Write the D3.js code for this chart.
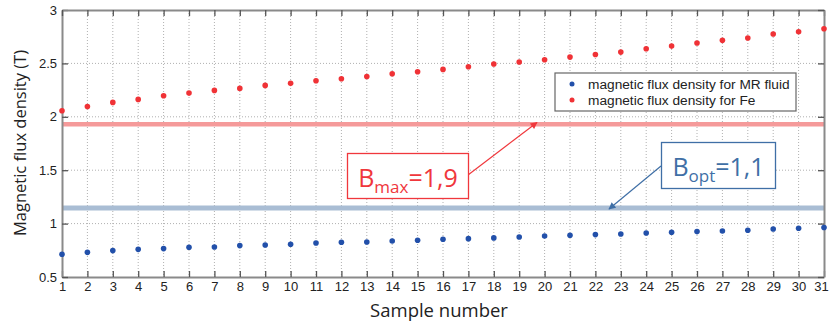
<!DOCTYPE html>
<html>
<head>
<meta charset="utf-8">
<script src="https://cdn.jsdelivr.net/npm/d3@7"></script>
<style>
  body { margin: 0; background: #fff; }
  svg { display: block; }
</style>
</head>
<body>
<svg id="chart" width="829" height="323"></svg>
<script>
// sample numbers
const samples = d3.range(1, 32);
// magnetic flux density for MR fluid (T)
const mrFluid = [0.713, 0.731, 0.747, 0.759, 0.766, 0.778, 0.781, 0.794, 0.800, 0.806,
  0.819, 0.825, 0.828, 0.837, 0.844, 0.853, 0.859, 0.866, 0.875, 0.884,
  0.891, 0.897, 0.903, 0.912, 0.919, 0.925, 0.931, 0.938, 0.950, 0.956, 0.963];
// magnetic flux density for Fe (T)
const fe = [2.056, 2.097, 2.135, 2.163, 2.197, 2.222, 2.247, 2.266, 2.294, 2.313,
  2.337, 2.356, 2.378, 2.403, 2.422, 2.444, 2.469, 2.494, 2.513, 2.534,
  2.559, 2.584, 2.606, 2.637, 2.662, 2.691, 2.716, 2.738, 2.775, 2.797, 2.825];
const yTicks = [0.5, 1, 1.5, 2, 2.5, 3];
const bMaxLine = 1.93;
const bOptLine = 1.147;

const margin = { left: 62, right: 5, top: 10, bottom: 46 };
const width = 829 - margin.left - margin.right;
const height = 323 - margin.top - margin.bottom;

const svg = d3.select("#chart");
const g = svg.append("g")
  .attr("transform", `translate(${margin.left},${margin.top})`);

const x = d3.scaleLinear().domain([1, 31]).range([0, width]);
const y = d3.scaleLinear().domain([0.5, 3]).range([height, 0]);

// grid
g.append("g")
  .selectAll("line")
  .data(samples.slice(1, -1))
  .join("line")
  .attr("x1", d => x(d)).attr("x2", d => x(d))
  .attr("y1", 0).attr("y2", height)
  .attr("stroke", "#b0b0b0")
  .attr("stroke-dasharray", "1,2");
g.append("g")
  .selectAll("line")
  .data(yTicks.slice(1, -1))
  .join("line")
  .attr("x1", 0).attr("x2", width)
  .attr("y1", d => y(d)).attr("y2", d => y(d))
  .attr("stroke", "#b0b0b0")
  .attr("stroke-dasharray", "1,2");

// reference lines
g.append("line")
  .attr("x1", 0).attr("x2", width)
  .attr("y1", y(bMaxLine)).attr("y2", y(bMaxLine))
  .attr("stroke", "#f59a9a").attr("stroke-width", 4.5);
g.append("line")
  .attr("x1", 0).attr("x2", width)
  .attr("y1", y(bOptLine)).attr("y2", y(bOptLine))
  .attr("stroke", "#a9bdd4").attr("stroke-width", 5);

// axes (MATLAB style box with inward ticks)
const axisColor = "#8a8a8a";
const tickFont = "Liberation Sans, Arial, sans-serif";

const xAxis = g.append("g")
  .attr("transform", `translate(0,${height})`)
  .call(d3.axisBottom(x).tickValues(samples).tickFormat(d3.format("d"))
    .tickSizeInner(-6).tickSizeOuter(0).tickPadding(5));
const yAxis = g.append("g")
  .call(d3.axisLeft(y).tickValues(yTicks).tickFormat(d => d)
    .tickSizeInner(-6).tickSizeOuter(0).tickPadding(5));
const xTop = g.append("g")
  .call(d3.axisTop(x).tickValues(samples).tickFormat("")
    .tickSizeInner(-6).tickSizeOuter(0));
const yRight = g.append("g")
  .attr("transform", `translate(${width},0)`)
  .call(d3.axisRight(y).tickValues(yTicks).tickFormat("")
    .tickSizeInner(-6).tickSizeOuter(0));

[xAxis, yAxis, xTop, yRight].forEach(a => {
  a.select(".domain").attr("stroke", axisColor).attr("stroke-width", 2);
  a.selectAll(".tick line").attr("stroke", "#555").attr("stroke-width", 1.3);
  a.selectAll("text")
    .attr("fill", "#222")
    .style("font-family", tickFont)
    .style("font-size", "13px");
});
// keep the last label inside the page
xAxis.selectAll(".tick text").filter(d => d === 31).attr("dx", -3);

// data points
g.append("g")
  .selectAll("circle")
  .data(samples)
  .join("circle")
  .attr("cx", d => x(d))
  .attr("cy", (d, i) => y(mrFluid[i]))
  .attr("r", 2.8)
  .attr("fill", "#2250aa");
g.append("g")
  .selectAll("circle")
  .data(samples)
  .join("circle")
  .attr("cx", d => x(d))
  .attr("cy", (d, i) => y(fe[i]))
  .attr("r", 2.8)
  .attr("fill", "#f03236");

// legend
const lg = svg.append("g").attr("transform", "translate(555,73)");
lg.append("rect")
  .attr("width", 241).attr("height", 38)
  .attr("fill", "#fff").attr("stroke", "#666").attr("stroke-width", 1.2);
const legendItems = [
  { label: "magnetic flux density for MR fluid", color: "#2250aa" },
  { label: "magnetic flux density for Fe", color: "#f03236" }
];
legendItems.forEach((d, i) => {
  lg.append("circle").attr("cx", 17).attr("cy", 11 + i * 16).attr("r", 2.5).attr("fill", d.color);
  lg.append("text")
    .attr("x", 33).attr("y", 16 + i * 16)
    .attr("fill", "#222")
    .style("font-family", tickFont)
    .style("font-size", "13.7px")
    .text(d.label);
});

// annotations
const calloutFont = "Open Sans, Liberation Sans, sans-serif";
function callout(bx, by, bw, bh, main, sub, value, color, from, to) {
  const defsId = "arr" + main + sub;
  svg.append("defs").append("marker")
    .attr("id", defsId)
    .attr("viewBox", "0 0 10 10")
    .attr("refX", 9).attr("refY", 5)
    .attr("markerWidth", 9).attr("markerHeight", 7)
    .attr("markerUnits", "userSpaceOnUse")
    .attr("orient", "auto")
    .append("path").attr("d", "M0,0 L10,5 L0,10 z").attr("fill", color);
  svg.append("line")
    .attr("x1", from[0]).attr("y1", from[1])
    .attr("x2", to[0]).attr("y2", to[1])
    .attr("stroke", color).attr("stroke-width", 1.2)
    .attr("marker-end", `url(#${defsId})`);
  svg.append("rect")
    .attr("x", bx).attr("y", by).attr("width", bw).attr("height", bh)
    .attr("fill", "#fff").attr("stroke", color).attr("stroke-width", 1.3);
  const t = svg.append("text")
    .attr("x", bx + bw / 2).attr("y", by + 33)
    .attr("text-anchor", "middle")
    .attr("fill", color)
    .style("font-family", calloutFont)
    .style("font-size", "25px");
  t.append("tspan").text(main);
  t.append("tspan").attr("dy", 6).style("font-size", "17px").text(sub);
  t.append("tspan").attr("dy", -6).text(value);
}
callout(347.5, 153.5, 121, 45, "B", "max", "=1,9", "#f0373c", [468, 175], [537, 122.5]);
callout(661.5, 142.5, 114, 46, "B", "opt", "=1,1", "#3f6fa6", [661, 166], [609, 209]);

// axis titles
svg.append("text")
  .attr("x", 439).attr("y", 317)
  .attr("text-anchor", "middle")
  .attr("fill", "#222")
  .style("font-family", calloutFont)
  .style("font-size", "18.5px")
  .text("Sample number");
svg.append("text")
  .attr("transform", "translate(26,143) rotate(-90)")
  .attr("text-anchor", "middle")
  .attr("fill", "#222")
  .style("font-family", calloutFont)
  .style("font-size", "16.5px")
  .text("Magnetic flux density (T)");
</script>
</body>
</html>
